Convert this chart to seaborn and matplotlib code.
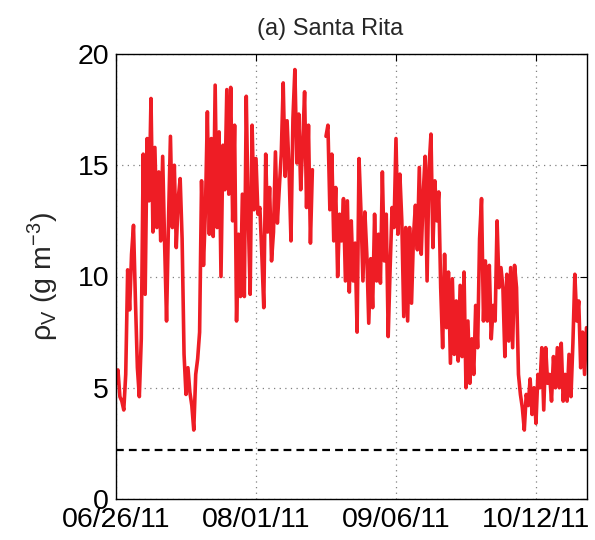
import numpy as np
import pandas as pd
import matplotlib
matplotlib.use("Agg")
import matplotlib.pyplot as plt
import matplotlib.dates as mdates
import seaborn as sns

# ---- data (vapour density, g m^-3), sampled every 12 h from 06/26/11 ----
start_date = "2011-06-26"
step = "12h"

vals_late_jun = [5.2, 5.8, 4.6, 4.4, 4.0, 5.6, 10.3, 8.5, 11.0, 12.3,
                 8.9, 5.9, 4.6, 7.2, 15.5, 9.2, 16.2, 13.4, 18.0, 12.0,
                 15.8, 12.2, 14.7, 11.6, 15.4, 11.5, 8.0, 12.5, 16.3, 12.2,
                 15.0, 11.3, 13.5, 14.4, 11.7, 6.5, 4.7, 5.9, 4.8, 4.2]
vals_jul = [3.1, 5.6, 6.3, 7.5, 14.3, 10.5, 13.0, 17.4, 11.9, 16.2,
            11.8, 18.6, 12.2, 16.5, 10.0, 15.9, 13.9, 18.4, 13.7, 18.5,
            12.5, 16.8, 8.0, 11.9, 9.1, 13.7, 9.1, 18.1, 12.8, 9.2,
            16.8, 13.0, 15.3, 12.8, 13.1, 11.0, 8.6, 15.5, 12.0, 14.0]
vals_aug = [10.7, 12.0, 15.6, 12.4, 14.0, 15.5, 18.7, 14.5, 17.0, 14.8,
            11.6, 17.1, 19.3, 15.1, 17.3, 13.9, 15.9, 18.3, 13.1, 16.8,
            11.5, 14.8, np.nan, np.nan, np.nan, np.nan, np.nan, np.nan, 16.3, 16.8,
            13.0, 15.5, 11.6, 14.0, 10.0, 12.8, 11.6, 13.5, 9.8, 13.4]
vals_sep = [9.3, 12.5, 9.8, 11.5, 7.5, 15.3, 12.9, 9.8, 12.9, 11.0,
            7.9, 10.8, 8.6, 12.8, 9.8, 11.9, 9.7, 14.7, 10.7, 12.8,
            7.3, 10.4, 13.1, 12.2, 16.2, 11.9, 14.6, 12.5, 8.2, 12.2,
            8.0, 12.2, 8.8, 11.8, 13.2, 11.2, 14.9, 11.0, 13.7, 15.4]
vals_late_sep = [9.8, 14.9, 16.4, 11.3, 14.3, 12.5, 13.8, 9.5, 6.8, 11.0,
                 7.7, 10.2, 6.1, 9.9, 6.5, 8.9, 6.2, 9.6, 6.4, 10.2,
                 5.0, 8.0, 5.2, 7.2, 5.6, 8.7, 6.8, 11.7, 13.5, 8.0,
                 10.7, 8.0, 10.5, 7.2, 8.7, 8.0, 12.5, 9.5, 10.4, 9.5]
vals_oct = [6.4, 10.1, 7.1, 10.4, 6.8, 10.5, 9.5, 5.6, 4.7, 4.1,
            3.1, 4.7, 4.2, 5.4, 3.8, 5.0, 3.4, 5.6, 5.0, 6.8,
            4.0, 6.8, 5.2, 5.6, 4.4, 6.4, 5.0, 6.8, 5.0, 7.0,
            4.4, 5.6, 4.4, 6.5, 4.6, 7.0, 10.1, 8.0, 8.9, 5.9,
            7.5, 5.6, 7.7]

threshold = 2.2
tick_dates = ["2011-06-26", "2011-08-01", "2011-09-06", "2011-10-12"]
x_end = "2011-10-25 03:00"
y_ticks = [0, 5, 10, 15, 20]

# ---- build table ----
values = np.array(vals_late_jun + vals_jul + vals_aug + vals_sep + vals_late_sep + vals_oct, dtype=float)
times = pd.date_range(start_date, periods=len(values), freq=step)
df = pd.DataFrame({"time": times, "rho": values})
df["seg"] = df["rho"].isna().cumsum()
df = df.dropna().reset_index(drop=True)

# ---- style ----
sns.set_style("white")
plt.rcParams["font.family"] = ["Liberation Sans", "DejaVu Sans"]
plt.rcParams["mathtext.fontset"] = "custom"
plt.rcParams["mathtext.rm"] = "Liberation Sans"
plt.rcParams["mathtext.it"] = "Liberation Sans:italic"

fig = plt.figure(figsize=(5.95, 5.4), dpi=100)
ax = fig.add_axes([116 / 595, 1 - 499 / 540, (587 - 116) / 595, (499 - 54) / 540])

sns.lineplot(data=df, x="time", y="rho", units="seg", estimator=None,
             color="#ee1d25", lw=2.6, ax=ax, legend=False)
ax.axhline(threshold, color="black", lw=1.6, ls=(0, (3.5, 2.3)))

ax.set_xlim(pd.Timestamp(start_date), pd.Timestamp(x_end))
ax.set_ylim(0, 20)
ax.set_xticks([pd.Timestamp(d) for d in tick_dates])
ax.xaxis.set_major_formatter(mdates.DateFormatter("%m/%d/%y"))
ax.set_yticks(y_ticks)

ax.grid(True, ls=(0, (1, 3.5)), color="#808080", lw=0.9)
ax.tick_params(direction="in", length=5, width=0.8, top=True, right=True,
               labelsize=20.5, colors="black")
ax.tick_params(axis="x", pad=6)
ax.tick_params(axis="y", pad=5)
for s in ax.spines.values():
    s.set_color("black")
    s.set_linewidth(1.0)

ax.set_xlabel("")
ax.set_ylabel("ρ$_\\mathrm{V}$ (g m$^{-3}$)", fontsize=20.5, labelpad=12)
ax.set_title("(a) Santa Rita", fontsize=17, pad=14, x=0.454)

fig.savefig("out.png", dpi=100)
